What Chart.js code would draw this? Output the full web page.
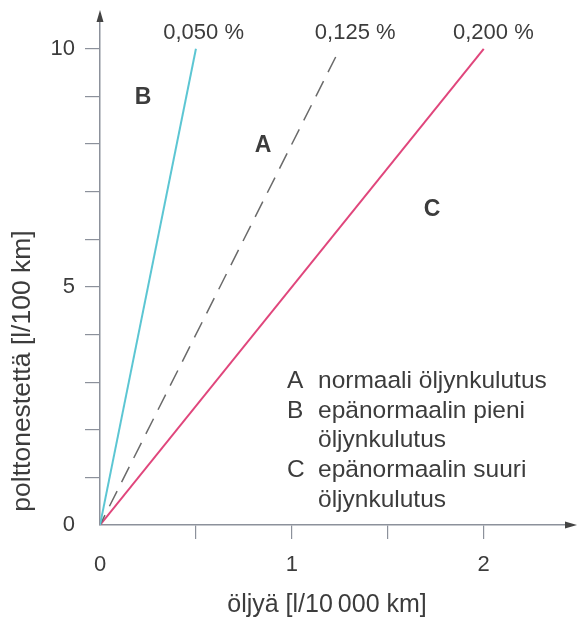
<!DOCTYPE html>
<html>
<head>
<meta charset="utf-8">
<script src="https://cdn.jsdelivr.net/npm/chart.js@4.4.1/dist/chart.umd.min.js"></script>
<style>
  html, body { margin: 0; padding: 0; background: #fff; }
  #wrap { width: 577px; height: 625px; }
</style>
</head>
<body>
<div id="wrap"><canvas id="chart" width="577" height="625"></canvas></div>
<script>
// oil use (x) and fuel use (y) at the two ends of each line
const oilB = [0, 0.5];    // 0,050 %
const fuelB = [0, 10];
const oilA = [0, 1.25];   // 0,125 %
const fuelA = [0, 10];
const oilC = [0, 2.0];    // 0,200 %
const fuelC = [0, 10];

const rateLabels = ['0,050 %', '0,125 %', '0,200 %'];
const zoneLetters = ['B', 'A', 'C'];
const xTickLabels = [0, 1, 2];
const yTickLabels = [0, 5, 10];

const legendRows = [
  ['A', 'normaali öljynkulutus'],
  ['B', 'epänormaalin pieni'],
  ['', 'öljynkulutus'],
  ['C', 'epänormaalin suuri'],
  ['', 'öljynkulutus']
];

const axisColor = '#8c919b';
const textColor = '#3c3c3c';
const font = '"Liberation Sans", Arial, sans-serif';

const toPoints = (xs, ys) => xs.map((x, i) => ({ x: x, y: ys[i] }));

// text and arrows drawn on top of the chart
const extras = {
  id: 'extras',
  afterDraw(chart) {
    const { ctx, chartArea: a, scales: { x, y } } = chart;
    ctx.save();

    // arrow heads
    ctx.fillStyle = '#444';
    ctx.beginPath();
    ctx.moveTo(a.left, a.top - 4);
    ctx.lineTo(a.left - 3.5, a.top + 8);
    ctx.lineTo(a.left + 3.5, a.top + 8);
    ctx.fill();
    ctx.beginPath();
    ctx.moveTo(a.right + 5, a.bottom);
    ctx.lineTo(a.right - 7, a.bottom - 3.5);
    ctx.lineTo(a.right - 7, a.bottom + 3.5);
    ctx.fill();

    // rate labels above line ends
    ctx.fillStyle = textColor;
    ctx.font = '22px ' + font;
    ctx.textAlign = 'center';
    ctx.textBaseline = 'alphabetic';
    const tops = [oilB[1], oilA[1], oilC[1]];
    const shift = [0.04, 0.08, 0.05];
    rateLabels.forEach((t, i) => {
      ctx.fillText(t, x.getPixelForValue(tops[i] + shift[i]), y.getPixelForValue(10.2));
    });

    // zone letters
    ctx.font = 'bold 23px ' + font;
    ctx.textBaseline = 'middle';
    const zonePos = [[0.225, 8.97], [0.85, 7.96], [1.73, 6.62]];
    zoneLetters.forEach((t, i) => {
      ctx.fillText(t, x.getPixelForValue(zonePos[i][0]), y.getPixelForValue(zonePos[i][1]));
    });

    // legend block
    ctx.font = '24.5px ' + font;
    ctx.textAlign = 'left';
    ctx.textBaseline = 'alphabetic';
    legendRows.forEach((r, i) => {
      const by = 388 + i * 29.7;
      if (r[0]) ctx.fillText(r[0], 287, by);
      ctx.fillText(r[1], 318, by);
    });

    // axis titles
    ctx.font = '25px ' + font;
    ctx.textAlign = 'center';
    ctx.textBaseline = 'middle';
    ctx.fillText('öljyä [l/10\u2009000 km]', 327, 605);
    ctx.font = '26.5px ' + font;
    ctx.translate(23, 371);
    ctx.rotate(-Math.PI / 2);
    ctx.fillText('polttonestettä [l/100 km]', 0, 0);

    ctx.restore();
  }
};

new Chart(document.getElementById('chart'), {
  type: 'scatter',
  data: {
    datasets: [
      {
        data: toPoints(oilB, fuelB),
        showLine: true,
        borderColor: '#5cc6d3',
        borderWidth: 2,
        pointRadius: 0
      },
      {
        data: toPoints(oilA, fuelA),
        showLine: true,
        borderColor: '#6a6a6a',
        borderWidth: 1.5,
        borderDash: [17, 10],
        borderDashOffset: 6,
        pointRadius: 0
      },
      {
        data: toPoints(oilC, fuelC),
        showLine: true,
        borderColor: '#e0467c',
        borderWidth: 2,
        pointRadius: 0
      }
    ]
  },
  options: {
    responsive: false,
    animation: false,
    layout: { padding: { top: 14, right: 5, left: 0, bottom: 0 } },
    plugins: {
      legend: { display: false },
      tooltip: { enabled: false }
    },
    scales: {
      x: {
        type: 'linear',
        min: 0,
        max: 2.46,
        afterFit: s => { s.height = 100; s.paddingLeft = 0; s.paddingRight = 0; },
        afterBuildTicks: s => { s.ticks = s.ticks.filter(t => t.value <= 2); },
        border: { display: true, color: axisColor, width: 1.5 },
        grid: {
          drawOnChartArea: false,
          tickLength: 14,
          lineWidth: 1.2,
          color: c => (c.tick && c.tick.value === 0 ? 'rgba(0,0,0,0)' : axisColor)
        },
        ticks: {
          stepSize: 0.5,
          padding: 13,
          color: textColor,
          font: { family: font, size: 22 },
          maxRotation: 0,
          autoSkip: false,
          callback: v => (xTickLabels.includes(v) ? String(v) : '')
        }
      },
      y: {
        type: 'linear',
        min: 0,
        max: 10.73,
        afterFit: s => { s.width = 100; s.paddingTop = 0; s.paddingBottom = 0; },
        afterBuildTicks: s => { s.ticks = s.ticks.filter(t => Number.isInteger(t.value)); },
        border: { display: true, color: axisColor, width: 1.5 },
        grid: {
          drawOnChartArea: false,
          tickLength: 15,
          lineWidth: 1.2,
          color: c => (c.tick && c.tick.value === 0 ? 'rgba(0,0,0,0)' : axisColor)
        },
        ticks: {
          stepSize: 1,
          padding: 10,
          color: textColor,
          font: { family: font, size: 22 },
          autoSkip: false,
          callback: v => (yTickLabels.includes(v) ? String(v) : '')
        }
      }
    }
  },
  plugins: [extras]
});
</script>
</body>
</html>
